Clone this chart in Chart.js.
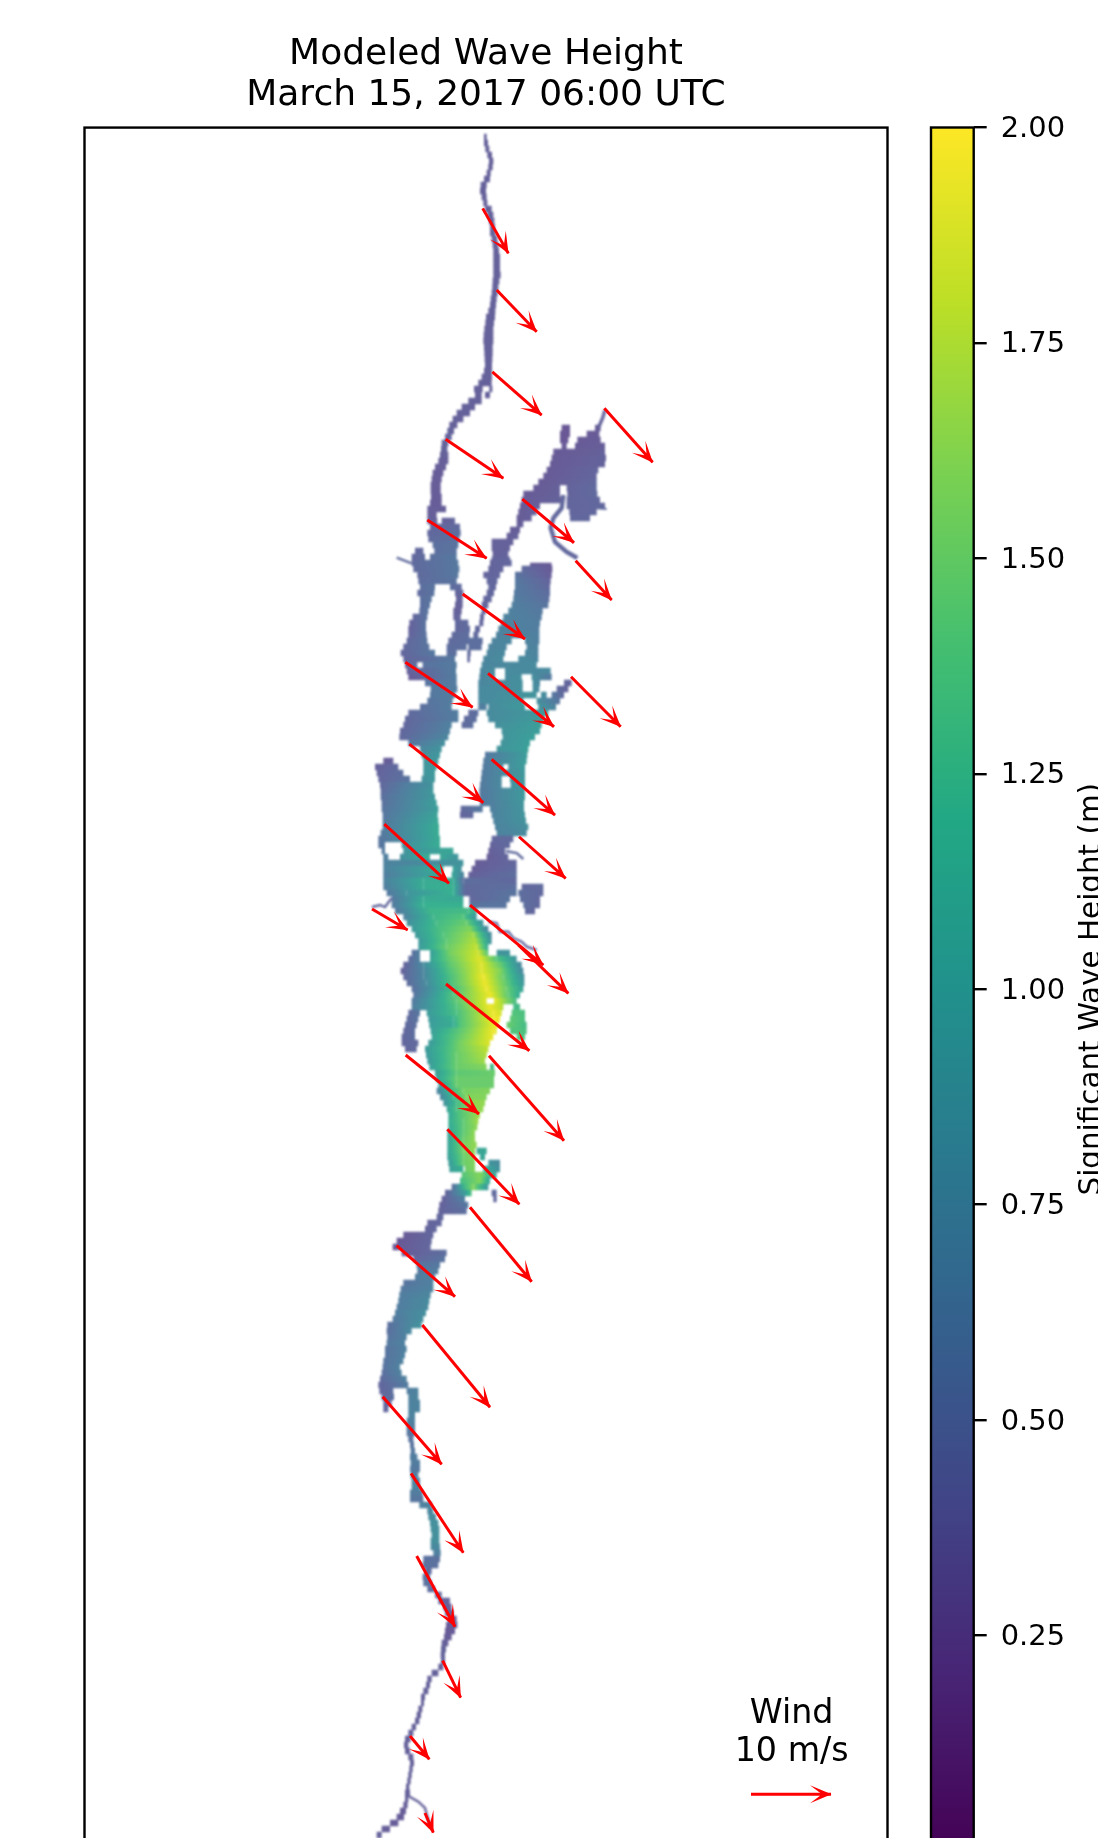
<!DOCTYPE html>
<html>
<head>
<meta charset="utf-8">
<title>Modeled Wave Height</title>
<script src="https://cdn.jsdelivr.net/npm/chart.js@4/dist/chart.umd.min.js"></script>
<style>
  html, body { margin: 0; width: 1098px; height: 1838px; overflow: hidden; background: #fff; }
  canvas { position: absolute; top: 0; }
  #waterChart { left: 0; filter: blur(1.1px); }
  #mapChart { left: 0; }
  #barChart { left: 900px; }
</style>
</head>
<body>
<canvas id="waterChart" width="900" height="1900"></canvas>
<canvas id="mapChart" width="900" height="1900"></canvas>
<canvas id="barChart" width="210" height="1900"></canvas>
<script>
// Labels
const titleLines = ['Modeled Wave Height', 'March 15, 2017 06:00 UTC'];
const colorbarLabel = 'Significant Wave Height (m)';
const windLabels = ['Wind', '10 m/s'];
const colorbarMin = 0;
const colorbarMax = 2;
const colorbarTicks = [0.25, 0.5, 0.75, 1, 1.25, 1.5, 1.75, 2];

// Viridis colour stops
const viridis = ['#440154', '#482475', '#414487', '#355f8d', '#2a788e', '#21918c', '#22a884', '#44bf70', '#7ad151', '#bddf26', '#fde725'];

// Water spans, one row per line of latitude: [northing, west, east, wave west, wave east]
const northRiver = [
  [137,432,440,.36],[143,432,444,.36],[149,436,448,.36],[155,442,456,.36],[161,447,460,.36],[167,445,458,.36],[173,440,452,.36],
  [179,432,450,.36],[185,422,440,.36],[191,420,438,.36],[197,425,440,.36],[203,430,442,.36],[209,435,455,.36],[215,442,460,.36],
  [221,447,463,.36],[227,450,465,.36],[233,450,467,.36],[239,455,472,.36],[245,458,475,.36],[251,460,477,.36],[257,460,480,.36],
  [263,460,480,.36],[269,460,480,.36],[275,460,482,.36],[281,458,478,.36],[287,457,475,.36],[293,455,473,.36],[299,452,470,.36],
  [305,450,468,.36],[311,445,466,.36],[317,438,465,.36],[323,436,462,.36],[329,433,460,.36],[335,431,460,.36],[341,430,460,.36],
  [347,432,458,.36],[353,433,458,.36],[359,434,457,.36],[365,435,456,.36],[371,432,456,.36],[377,425,456,.36],[383,415,455,.36],
  [389,402,428,.36],[389,448,457,.36],[395,405,425,.36],[395,435,450,.36],[401,385,425,.36],[407,365,405,.36],[413,350,390,.36],
  [419,338,370,.36],[425,328,352,.36],[431,322,342,.38],[437,315,335,.38],[443,305,325,.38],[449,303,322,.38],[455,300,325,.36],
  [461,295,325,.34],[467,285,318,.34],[473,278,310,.32],[479,275,305,.32],[485,272,302,.32],[491,272,302,.32],[497,273,305,.32],
  [503,270,305,.32],[509,262,318,.34],[515,262,290,.34],[521,262,292,.36]
];
const upperWestLake = [
  [521,305,345,.36,.4],[527,270,360,.4,.45],[533,262,362,.42,.5],[539,265,358,.45,.52],[545,278,355,.5,.55],[551,225,250,.42,.42],
  [551,283,350,.5,.55],[557,215,255,.42,.45],[557,270,350,.5,.6],[563,215,355,.45,.6],[569,220,358,.45,.6],[575,232,355,.45,.6],
  [581,235,350,.48,.55],[587,240,285,.5,.55],[587,330,365,.5,.45],[593,232,283,.45,.55],[593,345,370,.4,.38],[599,240,275,.5,.55],
  [599,348,368,.38,.38],[605,240,270,.5,.55],[605,345,368,.36,.36],[611,238,265,.5,.55],[611,340,365,.36,.36],[617,218,262,.4,.55],
  [617,340,362,.38,.4],[623,208,258,.35,.55],[623,345,385,.42,.45],[629,205,258,.35,.55],[629,345,390,.42,.45],[635,205,260,.38,.55],
  [635,335,388,.45,.48],[641,200,262,.42,.55],[641,325,390,.45,.5],[647,190,268,.42,.55],[647,320,380,.48,.5],[653,182,285,.4,.6],
  [653,320,350,.5,.5],[659,190,345,.4,.6],[665,195,232,.35,.5],[665,248,350,.55,.62],[671,200,348,.35,.65],[677,205,350,.3,.65],
  [683,255,350,.55,.65],[689,272,352,.6,.65],[695,270,345,.6,.65],[701,262,338,.55,.65],[707,240,335,.5,.65],[713,205,355,.45,.65],
  [719,195,355,.42,.65],[725,190,335,.4,.7],[731,180,330,.4,.7],[737,178,325,.42,.75],[743,205,315,.55,.85],[749,240,305,.75,.9],
  [755,245,300,.85,.92],[761,130,160,.32,.35],[761,250,295,.9,.92],[767,105,175,.35,.45],[767,250,290,.9,.95],[773,110,190,.38,.5],
  [773,250,285,.9,.95],[779,115,210,.4,.55],[779,245,285,.85,.95],[785,120,280,.42,.9],[791,122,280,.45,.95],[797,122,285,.5,.95],
  [803,125,290,.52,1],[809,125,295,.55,1],[815,128,293,.58,1.05],[821,128,295,.6,1.1],[827,128,297,.62,1.15],[833,122,297,.6,1.15],
  [839,115,300,.55,1.15],[845,115,135,.55,.6],[845,185,300,.85,1.15],[851,125,135,.6,.65],[851,190,340,.9,1.1],[857,130,145,.65,.7],
  [857,180,270,.85,1.15],[857,300,355,1.1,.9],[863,130,370,.7,.9],[869,130,310,.7,1.15],[869,338,365,1.05,.85],[875,130,305,.65,1.15],
  [875,335,372,1.1,.7]
];
const inlandSea = [
  [428,665,690,.28,.28],[428,765,782,.32,.32],[434,660,690,.28,.28],[434,740,778,.3,.3],[440,660,685,.28,.28],[440,712,782,.3,.32],
  [446,665,680,.3,.3],[446,705,795,.3,.34],[452,640,795,.3,.36],[458,635,798,.3,.38],[464,630,795,.3,.38],[470,620,775,.3,.4],
  [476,610,770,.3,.4],[482,595,770,.3,.42],[488,580,660,.3,.36],[488,680,770,.38,.45],[494,550,660,.3,.36],[494,682,772,.38,.45],
  [500,545,665,.3,.38],[500,680,780,.4,.42],[506,540,600,.3,.35],[506,680,795,.4,.42],[512,535,590,.32,.36],[512,688,770,.4,.42],
  [518,530,575,.32,.35],[518,690,750,.42,.42],[524,530,550,.34,.34],[530,510,540,.34,.34],[536,500,535,.34,.36],[542,455,520,.36,.36],
  [548,455,510,.36,.36],[554,458,505,.36,.38],[560,455,510,.38,.4],[563,450,515,.38,.42]
];
const eastLake = [
  [566,570,635,.32,.3],[569,445,490,.38,.4],[569,545,637,.45,.3],[575,430,480,.38,.42],[575,525,635,.55,.32],[581,440,472,.42,.42],
  [581,525,632,.6,.38],[587,445,468,.42,.42],[587,525,630,.62,.42],[593,440,462,.42,.42],[593,522,630,.62,.48],[599,430,455,.4,.42],
  [599,520,628,.65,.5],[605,425,445,.38,.4],[605,515,625,.68,.55],[611,425,438,.4,.4],[611,505,608,.7,.6],[617,420,432,.4,.4],
  [617,490,605,.72,.62],[623,418,430,.4,.4],[623,483,600,.72,.65],[629,405,420,.42,.42],[629,475,598,.72,.65],[635,400,415,.45,.45],
  [635,468,598,.72,.68],[641,385,428,.5,.5],[641,455,515,.72,.75],[641,555,598,.72,.68],[647,385,425,.5,.5],[647,445,500,.72,.75],
  [647,560,595,.72,.7],[653,382,392,.45,.45],[653,440,495,.75,.78],[653,555,595,.75,.72],[659,382,390,.42,.42],[659,430,490,.75,.8],
  [659,535,595,.8,.75],[665,425,590,.75,.8],[671,420,465,.75,.8],[671,495,632,.8,.78],[677,418,465,.75,.8],[677,495,545,.8,.85],
  [677,575,635,.85,.6],[683,415,548,.75,.85],[683,578,600,.85,.75],[683,672,695,.4,.4],[689,415,548,.78,.85],[689,578,598,.85,.8],
  [689,650,685,.45,.38],[695,415,590,.78,.9],[695,603,620,.85,.8],[695,635,672,.6,.42],[701,415,550,.78,.9],[701,590,660,.85,.55],
  [707,415,440,.62,.7],[707,445,555,.8,.95],[707,595,648,.9,.7],[713,385,415,.45,.5],[713,440,625,.8,.95],[719,372,410,.45,.5],
  [719,445,612,.8,.98],[725,365,400,.45,.5],[725,465,605,.85,1],[731,485,600,.9,1],[737,488,585,.9,1.02],[743,482,570,.9,1.02],
  [749,470,565,.9,1.02],[755,435,562,.6,1],[761,430,560,.62,1],[767,428,490,.62,.8],[767,505,555,.85,.98],[773,425,555,.62,.95],
  [779,423,485,.62,.78],[779,510,555,.85,.95],[785,420,485,.62,.78],[785,512,555,.85,.95],[791,418,555,.6,.95],[797,418,555,.6,.95],
  [803,420,552,.6,.92],[809,362,428,.42,.6],[809,450,552,.68,.9],[815,360,400,.4,.45],[815,455,555,.7,.9],[821,460,558,.72,.88],
  [827,465,565,.72,.85],[833,470,560,.72,.8]
];
const eastBasin = [
  [839,455,520,.42,.45],[845,450,510,.38,.45],[851,445,495,.35,.42],[857,440,505,.32,.42],[863,405,530,.32,.42],[869,395,530,.32,.45],
  [875,385,530,.35,.5],[887,545,610,.42,.45],[893,535,610,.5,.42],[899,540,600,.5,.42],[905,550,600,.5,.42],[911,555,585,.45,.4]
];
const southLake = [
  [1217,290,310,.42,.42],[1223,262,305,.38,.42],[1229,255,290,.38,.42],[1235,190,280,.3,.42],[1241,170,275,.28,.42],[1247,158,272,.28,.42],
  [1253,185,320,.3,.5],[1259,220,315,.4,.55],[1265,230,300,.55,.6],[1271,232,295,.6,.65],[1277,225,285,.65,.7],[1283,190,280,.55,.7],
  [1289,182,280,.6,.72],[1295,178,272,.65,.75],[1301,175,268,.65,.8],[1307,170,265,.65,.8],[1313,165,258,.65,.85],[1319,158,250,.6,.85],
  [1325,142,245,.5,.9],[1331,140,215,.5,.8],[1337,142,200,.55,.7],[1343,140,195,.6,.7],[1349,135,200,.55,.7],[1355,135,195,.55,.7],
  [1361,130,190,.55,.7],[1367,128,180,.55,.7],[1373,125,185,.5,.7],[1379,120,200,.45,.7],[1385,115,205,.4,.65],[1391,118,160,.4,.5],
  [1391,200,235,.65,.72],[1397,125,162,.45,.5],[1397,205,235,.7,.72],[1403,130,155,.4,.45],[1403,205,240,.7,.72],[1409,130,145,.4],
  [1409,205,240,.72],[1415,205,225,.72],[1421,200,225,.7],[1427,200,225,.65],[1433,200,225,.58]
];
const southRiver = [
  [1439,205,220,.55],[1445,210,222,.55],[1451,212,225,.6],[1457,210,232,.65],[1463,212,240,.65],[1469,210,240,.6],[1475,212,235,.65],
  [1481,215,240,.7],[1487,215,240,.72],[1493,210,248,.65],[1499,210,250,.58],[1505,238,275,.7],[1511,262,280,.75],[1517,265,288,.8],
  [1523,270,295,.85],[1529,272,298,.85],[1535,275,298,.85],[1541,272,298,.85],[1547,272,300,.78],[1553,280,302,.68],[1559,250,300,.52],
  [1565,248,295,.52],[1571,255,275,.48],[1577,248,270,.52],[1583,250,275,.52],[1589,262,285,.48],[1595,285,305,.42],[1601,295,330,.38],
  [1607,310,335,.35],[1613,315,340,.35],[1619,325,350,.33],[1625,318,352,.3],[1631,315,345,.3],[1637,312,335,.32],[1643,305,325,.35],
  [1649,303,318,.38],[1655,302,315,.38],[1661,303,315,.38],[1667,295,310,.36],[1673,275,295,.36],[1679,262,275,.36],[1685,258,270,.36],
  [1691,250,265,.36],[1697,243,255,.36],[1703,243,252,.36],[1709,235,247,.36],[1715,230,243,.36],[1721,225,238,.36],[1727,215,228,.36],
  [1733,205,220,.36],[1739,195,212,.36],[1745,192,205,.36],[1751,195,210,.36],[1757,205,220,.36],[1763,210,222,.36],[1769,208,218,.36],
  [1775,205,215,.36],[1781,202,212,.36],[1787,198,208,.36],[1793,195,210,.36],[1799,195,205,.36],[1805,190,203,.34],[1811,180,198,.32],
  [1817,170,192,.32],[1823,150,175,.32],[1829,125,150,.34],[1835,110,125,.36]
];

// Main basin, where the height changes across the row: [northing, east, wave, east, wave, ...]
const mainBasin = [
  [881,130,.7,250,1.15,340,1.15,370,.5,530,.42],[887,130,.65,250,1.15,340,1.2,375,.45,530,.5],[893,140,.6,200,.9,340,1.2,375,.42,530,.55],
  [899,155,.6,250,1.15,370,1.1],[899,388,.42,510,.55],[905,155,.6,250,1.2,370,1.2],[905,388,.55,500,.55],
  [911,165,.6,270,1.25,385,1.3,410,1.15],[917,190,.7,280,1.25,370,1.4,410,.9],[923,200,.85,290,1.3,380,1.5,430,.85],
  [929,215,.95,300,1.35,390,1.6,445,.7],[935,225,.95,310,1.4,400,1.7,455,.75],[941,235,.95,320,1.45,405,1.75,455,.85],
  [947,235,.95,320,1.5,410,1.8,445,1.1],[953,215,.5,240,.7],[953,270,1,330,1.55,415,1.85,445,1.4],[953,470,.9,510,.9],
  [959,205,.45,240,.7],[959,270,1.05,330,1.5,420,1.9,470,1.4,530,.9],[965,190,.35,250,.8,330,1.45,425,1.9,480,1.5,545,.75],
  [971,182,.35,250,.75,330,1.4,425,1.9,480,1.6,550,.75],[977,190,.4,250,.75,330,1.35,430,1.95,490,1.5,553,.85],
  [983,200,.45,260,.8,330,1.35,435,1.95,495,1.5,553,.9],[989,215,.5,270,.85,340,1.35,440,1.95,500,1.5,550,1.05],
  [995,220,.55,270,.9,340,1.4,450,1.95,505,1.45,540,1.15],[1001,215,.6,270,.95,350,1.45,440,1.9],[1001,462,1.95,530,1.3],
  [1007,215,.65,270,.95,350,1.4,450,1.95,490,1.75],[1007,520,1.3,540,1.3],[1013,205,.45,240,.6],[1013,260,.95,350,1.35,460,1.95,485,1.85],
  [1013,515,1.4,555,1.35],[1019,200,.45,235,.55],[1019,265,.95,340,1.2,360,1.4,460,1.95,480,1.95],[1019,510,1.45,555,1.35],
  [1025,195,.45,230,.5],[1025,268,1,340,1.15,360,1.4,475,2],[1025,500,1.5,560,1.3],[1031,190,.4,225,.5],[1031,272,1,360,1.45,460,1.95,470,1.9],
  [1031,510,1.4,560,1.35],[1037,185,.4,225,.5],[1037,275,1.05,360,1.5,460,1.95],[1037,530,1.4,555,1.35],[1043,185,.4,235,.45],
  [1043,265,.95,360,1.55,450,1.9],[1049,195,.4,230,.45],[1049,255,.95,360,1.55,445,1.8],[1055,258,.95,350,1.5,440,1.75],
  [1061,262,.95,350,1.5,435,1.7],[1067,268,1,350,1.5,440,1.6],[1067,450,1.3,462,1.3],[1073,285,1,350,1.45,465,1.5],
  [1079,288,1.05,350,1.5,462,1.5],[1085,295,.95,350,1.5,462,1.5],[1091,290,.7,330,1.25,370,1.55,450,1.6],[1097,300,.75,340,1.25,380,1.6,440,1.6],
  [1103,310,.85,350,1.3,390,1.65,435,1.65],[1109,320,1.05,350,1.35,400,1.65,430,1.65],[1115,325,1.1,360,1.4,420,1.7],
  [1121,325,1.15,370,1.45,415,1.7],[1127,325,1.1,370,1.45,412,1.65],[1133,322,1.05,370,1.45,405,1.65],[1139,322,1.05,370,1.5,405,1.65],
  [1145,322,1.05,370,1.55,410,1.65],[1151,322,1.05,370,1.55,405,1.65],[1151,410,1.1,440,1.1],[1157,322,1,370,1.5,405,1.65],[1157,420,1.1,435,1.1],
  [1163,325,.95,370,1.5,405,1.6],[1163,445,.9,480,.8],[1169,328,1,370,1.2],[1169,375,1.5,405,1.6],[1169,430,1.15,480,.85],
  [1175,365,1.4,420,1.6,470,1],[1181,360,1.3,420,1.6,450,1.05],[1187,335,.45,375,1.3,400,1.6,445,.9],[1193,315,.35,375,1,395,1.4],
  [1193,455,.45,470,.45],[1199,305,.35,375,.7],[1199,460,.4,470,.4],[1205,298,.35,385,.6],[1211,295,.38,380,.5]
];

// Narrow side channels too thin for a row: east values then north values
const westStubX = [170, 215];
const westStubY = [557.7, 563.3];
const neInletX = [795, 788, 775];
const neInletY = [410, 418, 428];
const innerChannelX = [670, 665, 640, 632, 645, 680, 712];
const innerChannelY = [495, 508, 518, 528, 542, 552, 558];
const eastStubX = [770, 800];
const eastStubY = [508, 509];
const curlChannelX = [497, 530, 550];
const curlChannelY = [851, 853, 859];
const westCreekX = [96, 120, 135, 155];
const westCreekY = [907, 905, 907, 898];
const winoChannelX = [445, 470, 480, 505, 520, 545, 560, 590];
const winoChannelY = [921.7, 923, 931.7, 931.7, 938, 941.7, 946.7, 950];
const southForkX = [200, 235, 255, 262, 270];
const southForkY = [1795, 1801.7, 1808, 1816.7, 1825];

// Wind arrows: tail and tip
const windTailX = [428,470,457,317,793,547,262,707,368,196,444,693,208,455,537,133,96,390,535,318,447,197,322,390,170,247,128,213,230,308,210,255];
const windTailY = [208.3,290,371.7,439.3,408.3,499,520,560.7,594,662.3,673.3,676.7,744,759.3,836.7,824,909,905,945,984,1055.7,1055,1129.3,1207.3,1245.7,1325,1396.7,1473.3,1556,1660.7,1736,1813];
const windTipX = [505,590,605,490,938,702,440,815,555,398,642,842,430,645,677,327,203,610,685,568,672,417,538,575,345,450,305,370,345,362,268,280];
const windTipY = [253.3,331.7,415,478.3,462.3,542.7,558.3,600,639,707.3,726.7,726.7,802.7,815,878.3,883.3,930,965,993.3,1050.7,1140.7,1114,1204.3,1281.7,1296.7,1407.3,1464.3,1552.7,1626.7,1697.7,1759.3,1832.7];

// Reference arrow in the corner, 10 m/s
const keyArrowX = [1233, 1473];
const keyArrowY = [1794.3, 1794.3];
const keyLabelX = 1355;
const keyLabelY = [1723, 1761];

const FONT = '"DejaVu Sans", sans-serif';
const RED = '#ff0000';

// Shared map axes, hidden as in the original
const mapScales = {
  x: { type: 'linear', display: false, min: -766.5, max: 1642.5 },
  y: { type: 'linear', display: false, min: 127.5, max: 1851, reverse: true, offset: false },
};

function hexToRgb(hex) {
  return [1, 3, 5].map((i) => parseInt(hex.slice(i, i + 2), 16));
}

// The mesh lines lighten the colours, mostly where the water is calm
function waveColor(v) {
  const t = Math.min(Math.max(v / 2, 0), 1) * (viridis.length - 1);
  const i = Math.min(Math.floor(t), viridis.length - 2);
  const a = hexToRgb(viridis[i]);
  const b = hexToRgb(viridis[i + 1]);
  const mix = 0.78 + 0.2 * (v / 2);
  const rgb = a.map((c, k) => {
    const col = c + (b[k] - c) * (t - i);
    return Math.round(col * mix + 255 * (1 - mix));
  });
  return `rgb(${rgb[0]},${rgb[1]},${rgb[2]})`;
}

function cellColor(ctx) {
  const cell = ctx.raw;
  if (!cell || !cell.x) {
    return '#000';
  }
  if (cell.v0 === cell.v1) {
    return waveColor(cell.v0);
  }
  const xs = ctx.chart.scales.x;
  const grad = ctx.chart.ctx.createLinearGradient(xs.getPixelForValue(cell.x[0]), 0, xs.getPixelForValue(cell.x[1]), 0);
  for (let s = 0; s <= 4; s++) {
    grad.addColorStop(s / 4, waveColor(cell.v0 + ((cell.v1 - cell.v0) * s) / 4));
  }
  return grad;
}

function spanCells(rows) {
  return rows.map((r) => ({ y: r[0], x: [r[1], r[2]], v0: r[3], v1: r[4] ?? r[3] }));
}

function stopCells(rows) {
  const cells = [];
  rows.forEach((r) => {
    for (let i = 1; i + 3 < r.length; i += 2) {
      cells.push({ y: r[0], x: [r[i], r[i + 2]], v0: r[i + 1], v1: r[i + 3] });
    }
  });
  return cells;
}

function lineData(xs, ys) {
  return xs.map((x, i) => ({ x, y: ys[i] }));
}

function arrowDataset(xs, ys) {
  return {
    data: lineData(xs, ys),
    borderColor: RED,
    borderWidth: 3,
    pointRadius: 0,
    borderCapStyle: 'butt',
  };
}

function channelDataset(xs, ys, v, width) {
  return {
    type: 'line',
    indexAxis: 'x',
    data: lineData(xs, ys),
    borderColor: waveColor(v),
    borderWidth: width,
    pointRadius: 0,
  };
}

const frameBox = {
  id: 'frameBox',
  afterDraw(chart) {
    const { ctx, chartArea } = chart;
    ctx.save();
    ctx.strokeStyle = '#000';
    ctx.lineWidth = 2.4;
    ctx.strokeRect(chartArea.left, chartArea.top, chartArea.right - chartArea.left, chartArea.bottom - chartArea.top);
    ctx.restore();
  },
};

function drawHead(chart, x0, y0, x1, y1) {
  const { ctx, scales } = chart;
  const tx = scales.x.getPixelForValue(x0);
  const ty = scales.y.getPixelForValue(y0);
  const hx = scales.x.getPixelForValue(x1);
  const hy = scales.y.getPixelForValue(y1);
  ctx.save();
  ctx.translate(hx, hy);
  ctx.rotate(Math.atan2(hy - ty, hx - tx));
  ctx.fillStyle = RED;
  ctx.beginPath();
  ctx.moveTo(0.5, 0);
  ctx.lineTo(-21, -9);
  ctx.lineTo(-11, -1.5);
  ctx.lineTo(-11, 1.5);
  ctx.lineTo(-21, 9);
  ctx.closePath();
  ctx.fill();
  ctx.restore();
}

const windHeads = {
  id: 'windHeads',
  afterDatasetsDraw(chart) {
    windTailX.forEach((x, i) => drawHead(chart, x, windTailY[i], windTipX[i], windTipY[i]));
    drawHead(chart, keyArrowX[0], keyArrowY[0], keyArrowX[1], keyArrowY[1]);
  },
  afterDraw(chart) {
    const { ctx, scales } = chart;
    ctx.save();
    ctx.fillStyle = '#000';
    ctx.font = `33.3px ${FONT}`;
    ctx.textAlign = 'center';
    ctx.textBaseline = 'alphabetic';
    windLabels.forEach((label, i) => {
      ctx.fillText(label, scales.x.getPixelForValue(keyLabelX), scales.y.getPixelForValue(keyLabelY[i]));
    });
    ctx.restore();
  },
};

const sideLabel = {
  id: 'sideLabel',
  afterDraw(chart) {
    const { ctx, scales } = chart;
    ctx.save();
    ctx.translate(200, scales.y.getPixelForValue(1));
    ctx.rotate(-Math.PI / 2);
    ctx.fillStyle = '#000';
    ctx.font = `29.4px ${FONT}`;
    ctx.textAlign = 'center';
    ctx.textBaseline = 'alphabetic';
    ctx.fillText(colorbarLabel, 0, 0);
    ctx.restore();
  },
};

const waterCells = [
  ...spanCells(northRiver),
  ...spanCells(upperWestLake),
  ...spanCells(inlandSea),
  ...spanCells(eastLake),
  ...spanCells(eastBasin),
  ...stopCells(mainBasin),
  ...spanCells(southLake),
  ...spanCells(southRiver),
];

// Lake mesh on its own canvas, softened a little as in the picture
new Chart(document.getElementById('waterChart'), {
  type: 'bar',
  data: {
    datasets: [
      channelDataset(westStubX, westStubY, 0.45, 2.4),
      channelDataset(neInletX, neInletY, 0.38, 3.4),
      channelDataset(innerChannelX, innerChannelY, 0.42, 4.4),
      channelDataset(eastStubX, eastStubY, 0.45, 2),
      channelDataset(curlChannelX, curlChannelY, 0.45, 2.4),
      channelDataset(westCreekX, westCreekY, 0.42, 2.4),
      channelDataset(winoChannelX, winoChannelY, 0.42, 2.4),
      channelDataset(southForkX, southForkY, 0.36, 2.4),
      {
        data: waterCells,
        backgroundColor: cellColor,
        barThickness: 6.6,
        inflateAmount: 0,
        borderWidth: 0,
      },
    ],
  },
  options: {
    indexAxis: 'y',
    responsive: false,
    animation: false,
    layout: { padding: { left: 84.5, right: 12.5, top: 127.5, bottom: 49 } },
    plugins: { legend: { display: false }, tooltip: { enabled: false } },
    scales: mapScales,
  },
});

// Wind arrows, key, title and frame on top
new Chart(document.getElementById('mapChart'), {
  type: 'line',
  data: {
    datasets: [
      ...windTailX.map((x, i) => arrowDataset([x, windTipX[i]], [windTailY[i], windTipY[i]])),
      arrowDataset(keyArrowX, keyArrowY),
    ],
  },
  options: {
    responsive: false,
    animation: false,
    layout: { padding: { left: 84.5, right: 12.5, top: 0, bottom: 49 } },
    plugins: {
      legend: { display: false },
      tooltip: { enabled: false },
      title: {
        display: true,
        text: titleLines,
        color: '#000',
        fullSize: false,
        font: { family: FONT, size: 36, weight: 'normal', lineHeight: 1.14 },
        padding: { top: 34, bottom: 11.5 },
      },
    },
    scales: mapScales,
  },
  plugins: [windHeads, frameBox],
});

function colorbarFill(ctx) {
  const area = ctx.chart.chartArea;
  if (!area) {
    return viridis[0];
  }
  const grad = ctx.chart.ctx.createLinearGradient(0, area.bottom, 0, area.top);
  viridis.forEach((c, i) => grad.addColorStop(i / (viridis.length - 1), c));
  return grad;
}

new Chart(document.getElementById('barChart'), {
  type: 'bar',
  data: {
    labels: ['wave'],
    datasets: [
      {
        data: [[colorbarMin, colorbarMax]],
        backgroundColor: colorbarFill,
        barPercentage: 1,
        categoryPercentage: 1,
        borderWidth: 0,
      },
    ],
  },
  options: {
    responsive: false,
    animation: false,
    layout: { padding: { left: 31, right: 0, top: 127.5, bottom: 49 } },
    plugins: { legend: { display: false }, tooltip: { enabled: false } },
    scales: {
      x: { display: false },
      y: {
        position: 'right',
        min: colorbarMin,
        max: colorbarMax,
        afterFit(scale) {
          scale.width = 136.3;
        },
        afterBuildTicks(scale) {
          scale.ticks = colorbarTicks.map((value) => ({ value }));
        },
        border: { display: false },
        grid: { drawOnChartArea: false, color: '#000', lineWidth: 2.4, tickLength: 13 },
        ticks: {
          color: '#000',
          padding: 14,
          labelOffset: 2,
          autoSkip: false,
          font: { family: FONT, size: 28.9 },
          callback: (v) => Number(v).toFixed(2),
        },
      },
    },
  },
  plugins: [sideLabel, frameBox],
});
</script>
</body>
</html>
